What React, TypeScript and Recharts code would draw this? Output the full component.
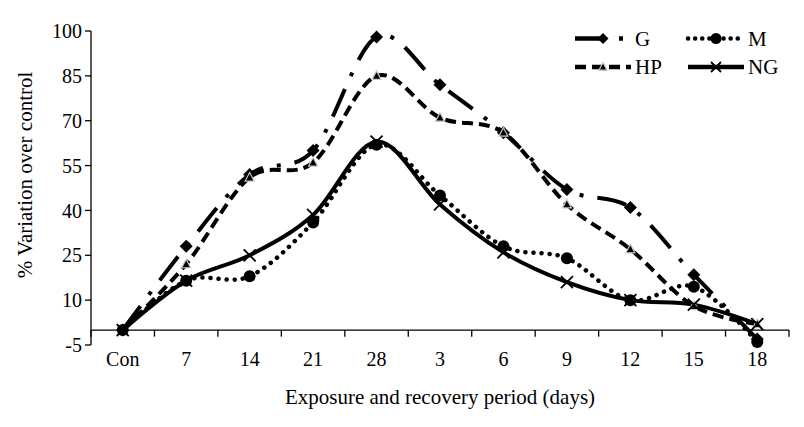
import React from 'react';
import {
  LineChart,
  Line,
  XAxis,
  YAxis,
  ReferenceLine,
  Legend,
} from 'recharts';

const categories = ['Con', '7', '14', '21', '28', '3', '6', '9', '12', '15', '18'];
const gValues = [0, 28, 52, 60, 98, 82, 66, 47, 41, 18.5, -3];
const hpValues = [0, 22, 51, 56, 85, 71, 66, 42, 27, 8, 2];
const mValues = [0, 16.5, 18, 36, 62, 45, 28, 24, 10, 14.5, -4];
const ngValues = [0, 16.5, 25, 38.5, 63, 42, 26, 16, 10, 8.5, 2];
const yTicks = [-5, 10, 25, 40, 55, 70, 85, 100];

const data = categories.map((c, i) => ({
  idx: i,
  name: c,
  G: gValues[i],
  HP: hpValues[i],
  M: mValues[i],
  NG: ngValues[i],
}));

const xTicks = categories.map((_, i) => i);
const boundaryTicks = [-0.5, ...categories.map((_, i) => i + 0.5)];

const FONT = "Liberation Serif, Times New Roman, Times, DejaVu Serif, serif";
const textStyle = { fontFamily: FONT };

// Catmull-Rom style (cardinal, tension 0) curve factory, similar to Excel smoothing
function smoothCurve(context: any) {
  const k = 1 / 6;
  let x0 = NaN, y0 = NaN, x1 = NaN, y1 = NaN, x2 = NaN, y2 = NaN;
  let pt = 0;
  const seg = (x: number, y: number) => {
    context.bezierCurveTo(
      x1 + k * (x2 - x0),
      y1 + k * (y2 - y0),
      x2 + k * (x1 - x),
      y2 + k * (y1 - y),
      x2,
      y2
    );
  };
  return {
    areaStart() {},
    areaEnd() {},
    lineStart() {
      x0 = x1 = x2 = y0 = y1 = y2 = NaN;
      pt = 0;
    },
    lineEnd() {
      if (pt === 2) context.lineTo(x2, y2);
      else if (pt === 3) seg(x1, y1);
    },
    point(xv: number, yv: number) {
      const x = +xv;
      const y = +yv;
      if (pt === 0) {
        pt = 1;
        context.moveTo(x, y);
      } else if (pt === 1) {
        pt = 2;
        x1 = x;
        y1 = y;
      } else {
        if (pt === 2) pt = 3;
        seg(x, y);
      }
      x0 = x1; x1 = x2; x2 = x;
      y0 = y1; y1 = y2; y2 = y;
    },
  };
}

const diamondShape = (cx: number, cy: number, s: number, key?: string) => (
  <polygon
    key={key}
    points={`${cx},${cy - s} ${cx + s},${cy} ${cx},${cy + s} ${cx - s},${cy}`}
    fill="#000"
  />
);
const triangleShape = (cx: number, cy: number, s: number, key?: string) => (
  <polygon
    key={key}
    points={`${cx},${cy - s} ${cx + s * 0.9},${cy + s * 0.7} ${cx - s * 0.9},${cy + s * 0.7}`}
    fill="#000"
    stroke="#c8c8c8"
    strokeWidth={1.2}
  />
);
const circleShape = (cx: number, cy: number, r: number, key?: string) => (
  <circle key={key} cx={cx} cy={cy} r={r} fill="#000" />
);
const crossShape = (cx: number, cy: number, s: number, key?: string) => (
  <path
    key={key}
    d={`M${cx - s},${cy - s}L${cx + s},${cy + s}M${cx - s},${cy + s}L${cx + s},${cy - s}`}
    stroke="#000"
    strokeWidth={1.8}
    fill="none"
  />
);

const gDot = (p: any) => (p.cx == null ? null : diamondShape(p.cx, p.cy, 6.5, `g${p.index}`));
const hpDot = (p: any) => (p.cx == null ? null : triangleShape(p.cx, p.cy, 5, `h${p.index}`));
const mDot = (p: any) => (p.cx == null ? null : circleShape(p.cx, p.cy, 6, `m${p.index}`));
const ngDot = (p: any) => (p.cx == null ? null : crossShape(p.cx, p.cy, 6, `n${p.index}`));

const seriesStyles = [
  { key: 'G', dash: '30 14 4 14', cap: 'butt', marker: (x: number, y: number) => diamondShape(x, y, 5.5), col: 0, row: 0 },
  { key: 'M', dash: '0.1 7', cap: 'round', marker: (x: number, y: number) => circleShape(x, y, 5.5), col: 1, row: 0 },
  { key: 'HP', dash: '11 6', cap: 'butt', marker: (x: number, y: number) => triangleShape(x, y, 4.5), col: 0, row: 1 },
  { key: 'NG', dash: undefined, cap: 'butt', marker: (x: number, y: number) => crossShape(x, y, 5), col: 1, row: 1 },
];

const renderLegend = () => (
  <svg width={240} height={58} style={{ display: 'block' }}>
    {seriesStyles.map((s) => {
      const x0 = 5 + s.col * 113;
      const y = 14.5 + s.row * 28.5;
      const len = 56;
      return (
        <g key={s.key}>
          <line
            x1={x0}
            y1={y}
            x2={x0 + len}
            y2={y}
            stroke="#000"
            strokeWidth={4.5}
            strokeDasharray={s.dash}
            strokeLinecap={s.cap as any}
          />
          {s.marker(x0 + len / 2, y)}
          <text
            x={x0 + len + 4}
            y={y}
            dominantBaseline="central"
            style={textStyle}
            fontSize={21}
            fill="#000"
          >
            {s.key}
          </text>
        </g>
      );
    })}
  </svg>
);

export default function App() {
  return (
    <div style={{ fontFamily: FONT }}>
      <LineChart
        width={796}
        height={411}
        data={data}
        margin={{ top: 23, right: 15, bottom: 0, left: 0 }}
        style={textStyle}
      >
        <XAxis
          dataKey="idx"
          type="number"
          domain={[-0.5, 10.5]}
          ticks={xTicks}
          interval={0}
          tickFormatter={(v: number) => categories[v] ?? ''}
          axisLine={false}
          tickLine={false}
          tickSize={6}
          tickMargin={1}
          height={74}
          tick={{ fill: '#000', fontSize: 20, style: textStyle }}
          label={{
            content: () => (
              <text
                x={432}
                y={389}
                textAnchor="middle"
                dominantBaseline="central"
                style={textStyle}
                fontSize={21}
                fill="#000"
              >
                Exposure and recovery period (days)
              </text>
            ),
          }}
        />
        <YAxis
          type="number"
          domain={[-5, 100]}
          ticks={yTicks}
          interval={0}
          width={83}
          axisLine={{ stroke: '#000', strokeWidth: 1.3 }}
          tickLine={{ stroke: '#000', strokeWidth: 1.3 }}
          tickSize={6}
          tickMargin={3}
          tick={{ fill: '#000', fontSize: 20, style: textStyle }}
          label={{
            content: () => (
              <text
                x={17}
                y={167}
                transform="rotate(-90 17 167)"
                textAnchor="middle"
                dominantBaseline="central"
                style={textStyle}
                fontSize={21}
                fill="#000"
              >
                % Variation over control
              </text>
            ),
          }}
        />
        <ReferenceLine y={0} stroke="#000" strokeWidth={1.3} />
        {boundaryTicks.map((x) => (
          <ReferenceLine
            key={`bt${x}`}
            segment={[
              { x, y: 0 },
              { x, y: -2.2 },
            ]}
            stroke="#000"
            strokeWidth={1.3}
          />
        ))}
        <Legend
          layout="horizontal"
          verticalAlign="middle"
          align="center"
          content={renderLegend}
          wrapperStyle={{ top: 16, left: 562, width: 240, height: 58 }}
        />
        <Line
          dataKey="G"
          type={smoothCurve as any}
          stroke="#000"
          strokeWidth={4}
          strokeDasharray="30 14 4 14"
          dot={gDot}
          activeDot={false}
          isAnimationActive={false}
        />
        <Line
          dataKey="HP"
          type={smoothCurve as any}
          stroke="#000"
          strokeWidth={4}
          strokeDasharray="11 6"
          dot={hpDot}
          activeDot={false}
          isAnimationActive={false}
        />
        <Line
          dataKey="M"
          type={smoothCurve as any}
          stroke="#000"
          strokeWidth={4.5}
          strokeDasharray="0.1 8"
          strokeLinecap="round"
          dot={mDot}
          activeDot={false}
          isAnimationActive={false}
        />
        <Line
          dataKey="NG"
          type={smoothCurve as any}
          stroke="#000"
          strokeWidth={4}
          dot={ngDot}
          activeDot={false}
          isAnimationActive={false}
        />
      </LineChart>
    </div>
  );
}
